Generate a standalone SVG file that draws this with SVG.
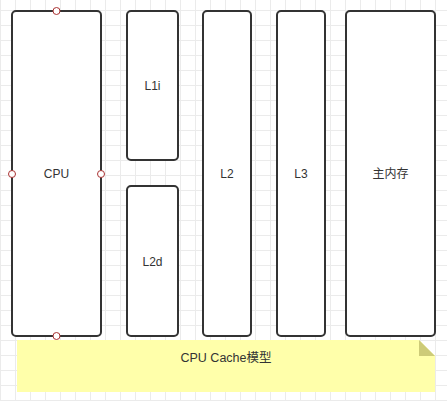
<svg xmlns="http://www.w3.org/2000/svg" width="447" height="401" viewBox="0 0 447 401">
<defs>
<pattern id="grid" x="0" y="10" width="15" height="15" patternUnits="userSpaceOnUse">
<path d="M0.5 0V15M0 0.5H15" fill="none" stroke="#ebebeb" stroke-width="1"/>
</pattern>
<style>
.box{fill:#fff;stroke:#333;stroke-width:2}
.lbl{font-family:"Liberation Sans","Noto Sans CJK SC",sans-serif;font-size:12px;fill:#333;text-anchor:middle;dominant-baseline:central}
.pt{fill:#fff;stroke:#a33;stroke-width:1}
</style>
</defs>
<rect width="447" height="401" fill="#fff"/>
<rect width="447" height="401" fill="url(#grid)"/>
<g id="cpu">
<rect class="box" x="12" y="11" width="89" height="325" rx="4"/>
<text class="lbl" x="56.5" y="174">CPU</text>
<circle class="pt" cx="56.5" cy="11" r="3.5"/>
<circle class="pt" cx="12" cy="174" r="3.5"/>
<circle class="pt" cx="101" cy="174" r="3.5"/>
<circle class="pt" cx="56.5" cy="336" r="3.5"/>
</g>
<g id="l1i">
<rect class="box" x="127" y="11" width="51" height="149" rx="4"/>
<text class="lbl" x="152.5" y="86">L1i</text>
</g>
<g id="l2d">
<rect class="box" x="127" y="186" width="51" height="150" rx="4"/>
<text class="lbl" x="152.5" y="262">L2d</text>
</g>
<g id="l2">
<rect class="box" x="203" y="11" width="48" height="325" rx="4"/>
<text class="lbl" x="227" y="174">L2</text>
</g>
<g id="l3">
<rect class="box" x="277" y="11" width="48" height="325" rx="4"/>
<text class="lbl" x="301" y="174">L3</text>
</g>
<g id="mem">
<rect class="box" x="346" y="11" width="89" height="325" rx="4"/>
<text class="lbl" x="390.5" y="174">主内存</text>
</g>
<g id="note">
<path d="M17 340H419L435 356V392H17Z" fill="#ffffaa"/>
<path d="M419 340V356H435Z" fill="#cdcb78"/>
<text class="lbl" x="226" y="358" style="font-size:12.5px">CPU Cache模型</text>
</g>
<g id="connectors"/>
</svg>
